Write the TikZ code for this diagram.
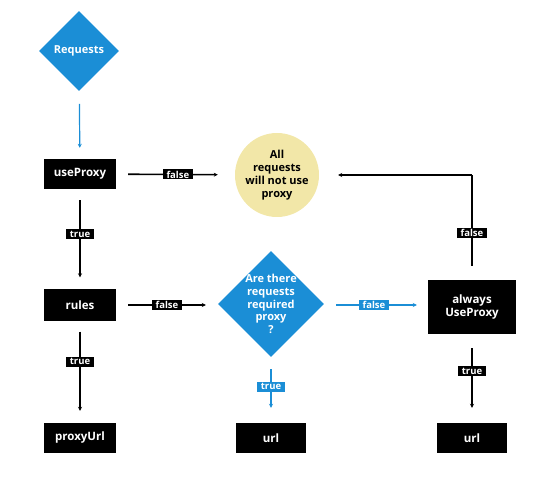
\documentclass[tikz,border=0pt]{standalone}
\usepackage{fontspec}
\setmainfont{Open Sans}
\usetikzlibrary{shapes.geometric,arrows.meta}
\definecolor{cblue}{RGB}{27,142,214}
\definecolor{cyell}{RGB}{242,231,168}
\tikzset{
  box/.style={draw=none,fill=black,text=white,font=\bfseries\fontsize{11.5}{13}\selectfont,align=center,inner sep=0pt},
  dia/.style={diamond,fill=cblue,text=white,font=\bfseries\fontsize{11}{12.8}\selectfont,align=center,inner sep=0pt,minimum width=#1,minimum height=#1,aspect=1},
  lab/.style={fill=#1,text=white,font=\bfseries\fontsize{9.5}{10}\selectfont,inner xsep=3.5pt,inner ysep=0.5pt,minimum height=10pt},
  arr/.style={draw=#1,line width=1.6pt,-{Stealth[length=4pt,width=4pt]}},
}
\begin{document}
\begin{tikzpicture}[x=1pt,y=-1pt]
\useasboundingbox (0,0) rectangle (547,484);
% nodes
\node[dia=80] (req) at (79,51) {Requests};
\node[box,minimum width=72,minimum height=30] (use) at (80,174) {useProxy};
\node[circle,fill=cyell,minimum size=84,inner sep=0pt,align=center,font=\bfseries\fontsize{11}{13}\selectfont] (none) at (277,175) {All\\requests\\will not use\\proxy};
\node[box,minimum width=72,minimum height=31] (rules) at (80,305) {rules};
\node[dia=106,inner sep=-12pt] (q) at (271,304) {Are there\\requests\\required\\proxy\\?};
\node[box,minimum width=88,minimum height=54] (always) at (472,307) {always\\UseProxy};
\node[box,minimum width=72,minimum height=30] (purl) at (80,438) {proxyUrl};
\node[box,minimum width=70,minimum height=30] (url1) at (271,438) {url};
\node[box,minimum width=70,minimum height=30] (url2) at (472,438) {url};
\coordinate (corner) at (472,175);
% connectors
\draw[arr=cblue,line width=1.2pt,shorten <=13pt,shorten >=11pt] (req) -- (use);
\draw[arr=black,shorten <=12pt,shorten >=17pt] (use) -- node[lab=black,pos=0.52]{false} (none);
\draw[arr=black,shorten <=11pt,shorten >=12pt] (use) -- node[lab=black,pos=0.45]{true} (rules);
\draw[arr=black,shorten <=12pt,shorten >=12pt] (rules.east) -- node[lab=black]{false} (q.west |- rules.east);
\draw[arr=cblue,shorten <=12pt,shorten >=11pt] (q.east |- rules.east) -- node[lab=cblue,pos=0.48]{false} (always.west |- rules.east);
\draw[arr=black,shorten <=11pt,shorten >=12pt] (rules) -- node[lab=black,pos=0.4]{true} (purl);
\draw[arr=cblue,shorten <=12pt,shorten >=15pt] (q) -- node[lab=cblue,pos=0.45]{true} (url1);
\draw[arr=black,shorten <=14pt,shorten >=15pt] (always) -- node[lab=black,pos=0.42]{true} (url2);
\draw[line width=1.6pt,shorten <=14pt] (always.north) -- node[lab=black,pos=0.45]{false} (corner);
\draw[arr=black,shorten >=19pt] (corner) -- (none);
\end{tikzpicture}
\end{document}
